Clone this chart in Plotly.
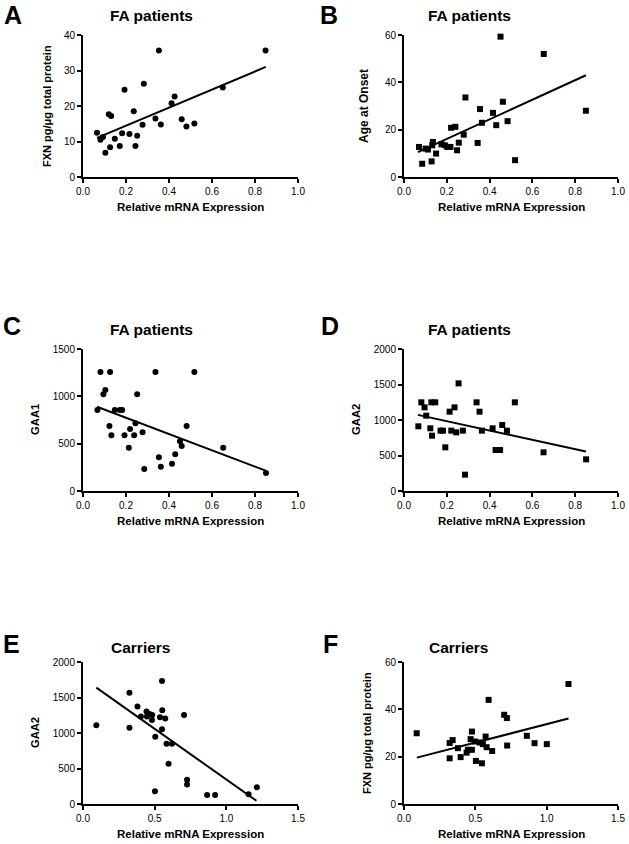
import plotly.graph_objects as go

W, H = 629, 844

# ---------------- data ----------------
A_x = [0.065, 0.081, 0.093, 0.104, 0.120, 0.131, 0.126, 0.148, 0.171, 0.182, 0.193, 0.216, 0.236, 0.244,
       0.252, 0.277, 0.283, 0.337, 0.353, 0.362, 0.412, 0.426, 0.459, 0.481, 0.518, 0.650, 0.849]
A_y = [12.5, 10.5, 11.3, 6.8, 17.7, 17.2, 8.4, 10.8, 8.7, 12.3, 24.6, 12.1, 18.5, 8.7,
       11.6, 14.7, 26.3, 16.5, 35.6, 14.8, 20.8, 22.7, 16.3, 14.2, 15.1, 25.2, 35.6]
A_fit_x = [0.065, 0.85]
A_fit_y = [11.0, 31.0]

B_x = [0.070, 0.085, 0.101, 0.112, 0.129, 0.132, 0.135, 0.150, 0.175, 0.191, 0.202, 0.217, 0.220, 0.240,
       0.248, 0.256, 0.279, 0.287, 0.344, 0.355, 0.364, 0.416, 0.431, 0.451, 0.462, 0.484, 0.519, 0.653, 0.850]
B_y = [12.7, 5.6, 12.0, 11.6, 6.6, 13.4, 14.8, 9.9, 13.8, 13.4, 12.7, 12.7, 20.8, 21.2,
       11.3, 14.5, 17.9, 33.6, 14.4, 28.7, 22.9, 27.1, 21.9, 59.3, 31.8, 23.6, 7.1, 52.0, 28.0]
B_fit_x = [0.065, 0.85]
B_fit_y = [10.5, 43.0]

C_x = [0.067, 0.081, 0.095, 0.104, 0.126, 0.123, 0.132, 0.148, 0.171, 0.182, 0.193, 0.213, 0.219, 0.238, 0.244,
       0.252, 0.277, 0.285, 0.337, 0.353, 0.362, 0.414, 0.429, 0.451, 0.459, 0.482, 0.518, 0.652, 0.851]
C_y = [856, 1257, 1021, 1067, 1257, 687, 588, 856, 856, 856, 588, 458, 655, 588, 715,
       1021, 620, 232, 1257, 356, 257, 289, 387, 525, 475, 687, 1257, 458, 190]
C_fit_x = [0.065, 0.85]
C_fit_y = [890, 215]

D_x = [0.067, 0.081, 0.096, 0.104, 0.123, 0.131, 0.128, 0.146, 0.171, 0.182, 0.193, 0.213, 0.221, 0.236, 0.244,
       0.255, 0.275, 0.285, 0.339, 0.353, 0.364, 0.414, 0.428, 0.449, 0.459, 0.481, 0.518, 0.652, 0.851]
D_y = [911, 1249, 1178, 1061, 883, 779, 1249, 1249, 850, 850, 615, 1117, 850, 1178, 826,
       1516, 850, 230, 1249, 1117, 850, 883, 577, 577, 930, 850, 1249, 545, 446]
D_fit_x = [0.065, 0.85]
D_fit_y = [1072, 555]

E_x = [0.093, 0.324, 0.324, 0.380, 0.404, 0.443, 0.446, 0.464, 0.483, 0.481, 0.504, 0.537, 0.551, 0.553,
       0.551, 0.574, 0.583, 0.621, 0.597, 0.705, 0.726, 0.726, 0.502, 0.866, 0.922, 1.155, 1.213]
E_y = [1108, 1566, 1075, 1373, 1231, 1302, 1231, 1269, 1255, 1184, 948, 1222, 1731, 1321,
       1052, 1203, 849, 849, 566, 1255, 340, 274, 179, 127, 127, 137, 236]
E_fit_x = [0.093, 1.21]
E_fit_y = [1640, 45]

F_x = [0.089, 0.320, 0.320, 0.341, 0.378, 0.397, 0.439, 0.448, 0.467, 0.476, 0.476, 0.497, 0.504, 0.530,
       0.546, 0.553, 0.572, 0.579, 0.593, 0.618, 0.702, 0.721, 0.723, 0.861, 0.915, 1.001, 1.153]
F_y = [29.9, 19.3, 25.8, 27.0, 23.6, 19.8, 21.7, 22.9, 27.4, 30.6, 22.9, 26.4, 18.2, 26.0,
       17.2, 25.3, 28.5, 24.0, 44.0, 22.4, 37.7, 36.3, 24.7, 28.8, 25.7, 25.3, 50.7]
F_fit_x = [0.09, 1.153]
F_fit_y = [19.6, 36.1]

letters = ["A", "B", "C", "D", "E", "F"]
titles = ["FA patients", "FA patients", "FA patients", "FA patients", "Carriers", "Carriers"]
y_titles = ["FXN pg/\u03bcg total protein", "Age at Onset", "GAA1", "GAA2", "GAA2", "FXN pg/\u03bcg total protein"]
x_title = "Relative mRNA Expression"
x_ticks_patients = [0.0, 0.2, 0.4, 0.6, 0.8, 1.0]
x_ticks_carriers = [0.0, 0.5, 1.0, 1.5]
y_ticks = [[0, 10, 20, 30, 40], [0, 20, 40, 60], [0, 500, 1000, 1500],
           [0, 500, 1000, 1500, 2000], [0, 500, 1000, 1500, 2000], [0, 20, 40, 60]]
symbols = ["circle", "square", "circle", "square", "circle", "square"]

panels = [
    (A_x, A_y, A_fit_x, A_fit_y),
    (B_x, B_y, B_fit_x, B_fit_y),
    (C_x, C_y, C_fit_x, C_fit_y),
    (D_x, D_y, D_fit_x, D_fit_y),
    (E_x, E_y, E_fit_x, E_fit_y),
    (F_x, F_y, F_fit_x, F_fit_y),
]

# ---------------- layout geometry (pixels) ----------------
col_px = [(83, 298), (404, 618)]
row_px = [(35, 177), (349, 491), (662, 804)]
yt_off = [36, 40, 48, 48, 48, 37]
yt_size = [11, 12, 11.3, 11.3, 11.2, 11]
title_px = [(151, 16), (469, 16), (151, 329), (469, 329), (140, 647), (458, 647)]
letter_px = [(13, 15), (329, 15), (12, 326), (330, 326), (11, 644), (330, 644)]

FONT = "Arial, Liberation Sans, sans-serif"


def px(x):
    return x / W


def py(y):
    return 1 - y / H


fig = go.Figure()
layout = dict(
    template="none",
    width=W, height=H, margin=dict(l=0, r=0, t=0, b=0, pad=0, autoexpand=False),
    paper_bgcolor="white", plot_bgcolor="white", showlegend=False,
    font=dict(family=FONT, color="black", size=10),
)
annotations = []

for i, (xs, ys, fx, fy) in enumerate(panels):
    r, c = divmod(i, 2)
    (x0, x1), (y0, y1) = col_px[c], row_px[r]
    n = "" if i == 0 else str(i + 1)
    xa, ya = "x" + n, "y" + n
    fig.add_trace(go.Scatter(x=fx, y=fy, mode="lines", xaxis=xa, yaxis=ya,
                             line=dict(color="black", width=2)))
    fig.add_trace(go.Scatter(x=xs, y=ys, mode="markers", xaxis=xa, yaxis=ya,
                             marker=dict(symbol=symbols[i], size=6, color="black"),
                             cliponaxis=False))
    xt = x_ticks_patients if r < 2 else x_ticks_carriers
    yt = y_ticks[i]
    common = dict(showline=True, linecolor="black", linewidth=2, ticks="outside",
                  ticklen=4, tickwidth=2, tickcolor="black", showgrid=False, zeroline=False,
                  automargin=False, tickfont=dict(size=10, family=FONT, color="black"))
    layout["xaxis" + n] = dict(
        domain=[px(x0), px(x1)], anchor=ya, range=[xt[0], xt[-1]],
        tickvals=xt, ticktext=["%.1f" % v for v in xt], **common)
    layout["yaxis" + n] = dict(
        domain=[py(y1), py(y0)], anchor=xa, range=[yt[0], yt[-1]],
        tickvals=yt, ticktext=[str(v) for v in yt], **common)

    # axis titles
    annotations.append(dict(text="<b>%s</b>" % x_title, x=px((x0 + x1) / 2), y=py(y1 + 30),
                            xref="paper", yref="paper", showarrow=False,
                            xanchor="center", yanchor="middle", font=dict(size=11.5, family=FONT)))
    annotations.append(dict(text="<b>%s</b>" % y_titles[i], x=px(x0 - yt_off[i]), y=py((y0 + y1) / 2),
                            xref="paper", yref="paper", showarrow=False, textangle=-90,
                            xanchor="center", yanchor="middle", font=dict(size=yt_size[i], family=FONT)))
    tx, ty = title_px[i]
    annotations.append(dict(text="<b>%s</b>" % titles[i], x=px(tx), y=py(ty),
                            xref="paper", yref="paper", showarrow=False,
                            xanchor="center", yanchor="middle", font=dict(size=15.5, family=FONT)))
    lx, ly = letter_px[i]
    annotations.append(dict(text="<b>%s</b>" % letters[i], x=px(lx), y=py(ly),
                            xref="paper", yref="paper", showarrow=False,
                            xanchor="center", yanchor="middle", font=dict(size=25, family=FONT)))

layout["annotations"] = annotations
fig.update_layout(**layout)
fig.write_html("out.html",
               config={"displayModeBar": False},
               post_script="document.body.style.margin='0px';document.body.style.padding='0px';")
